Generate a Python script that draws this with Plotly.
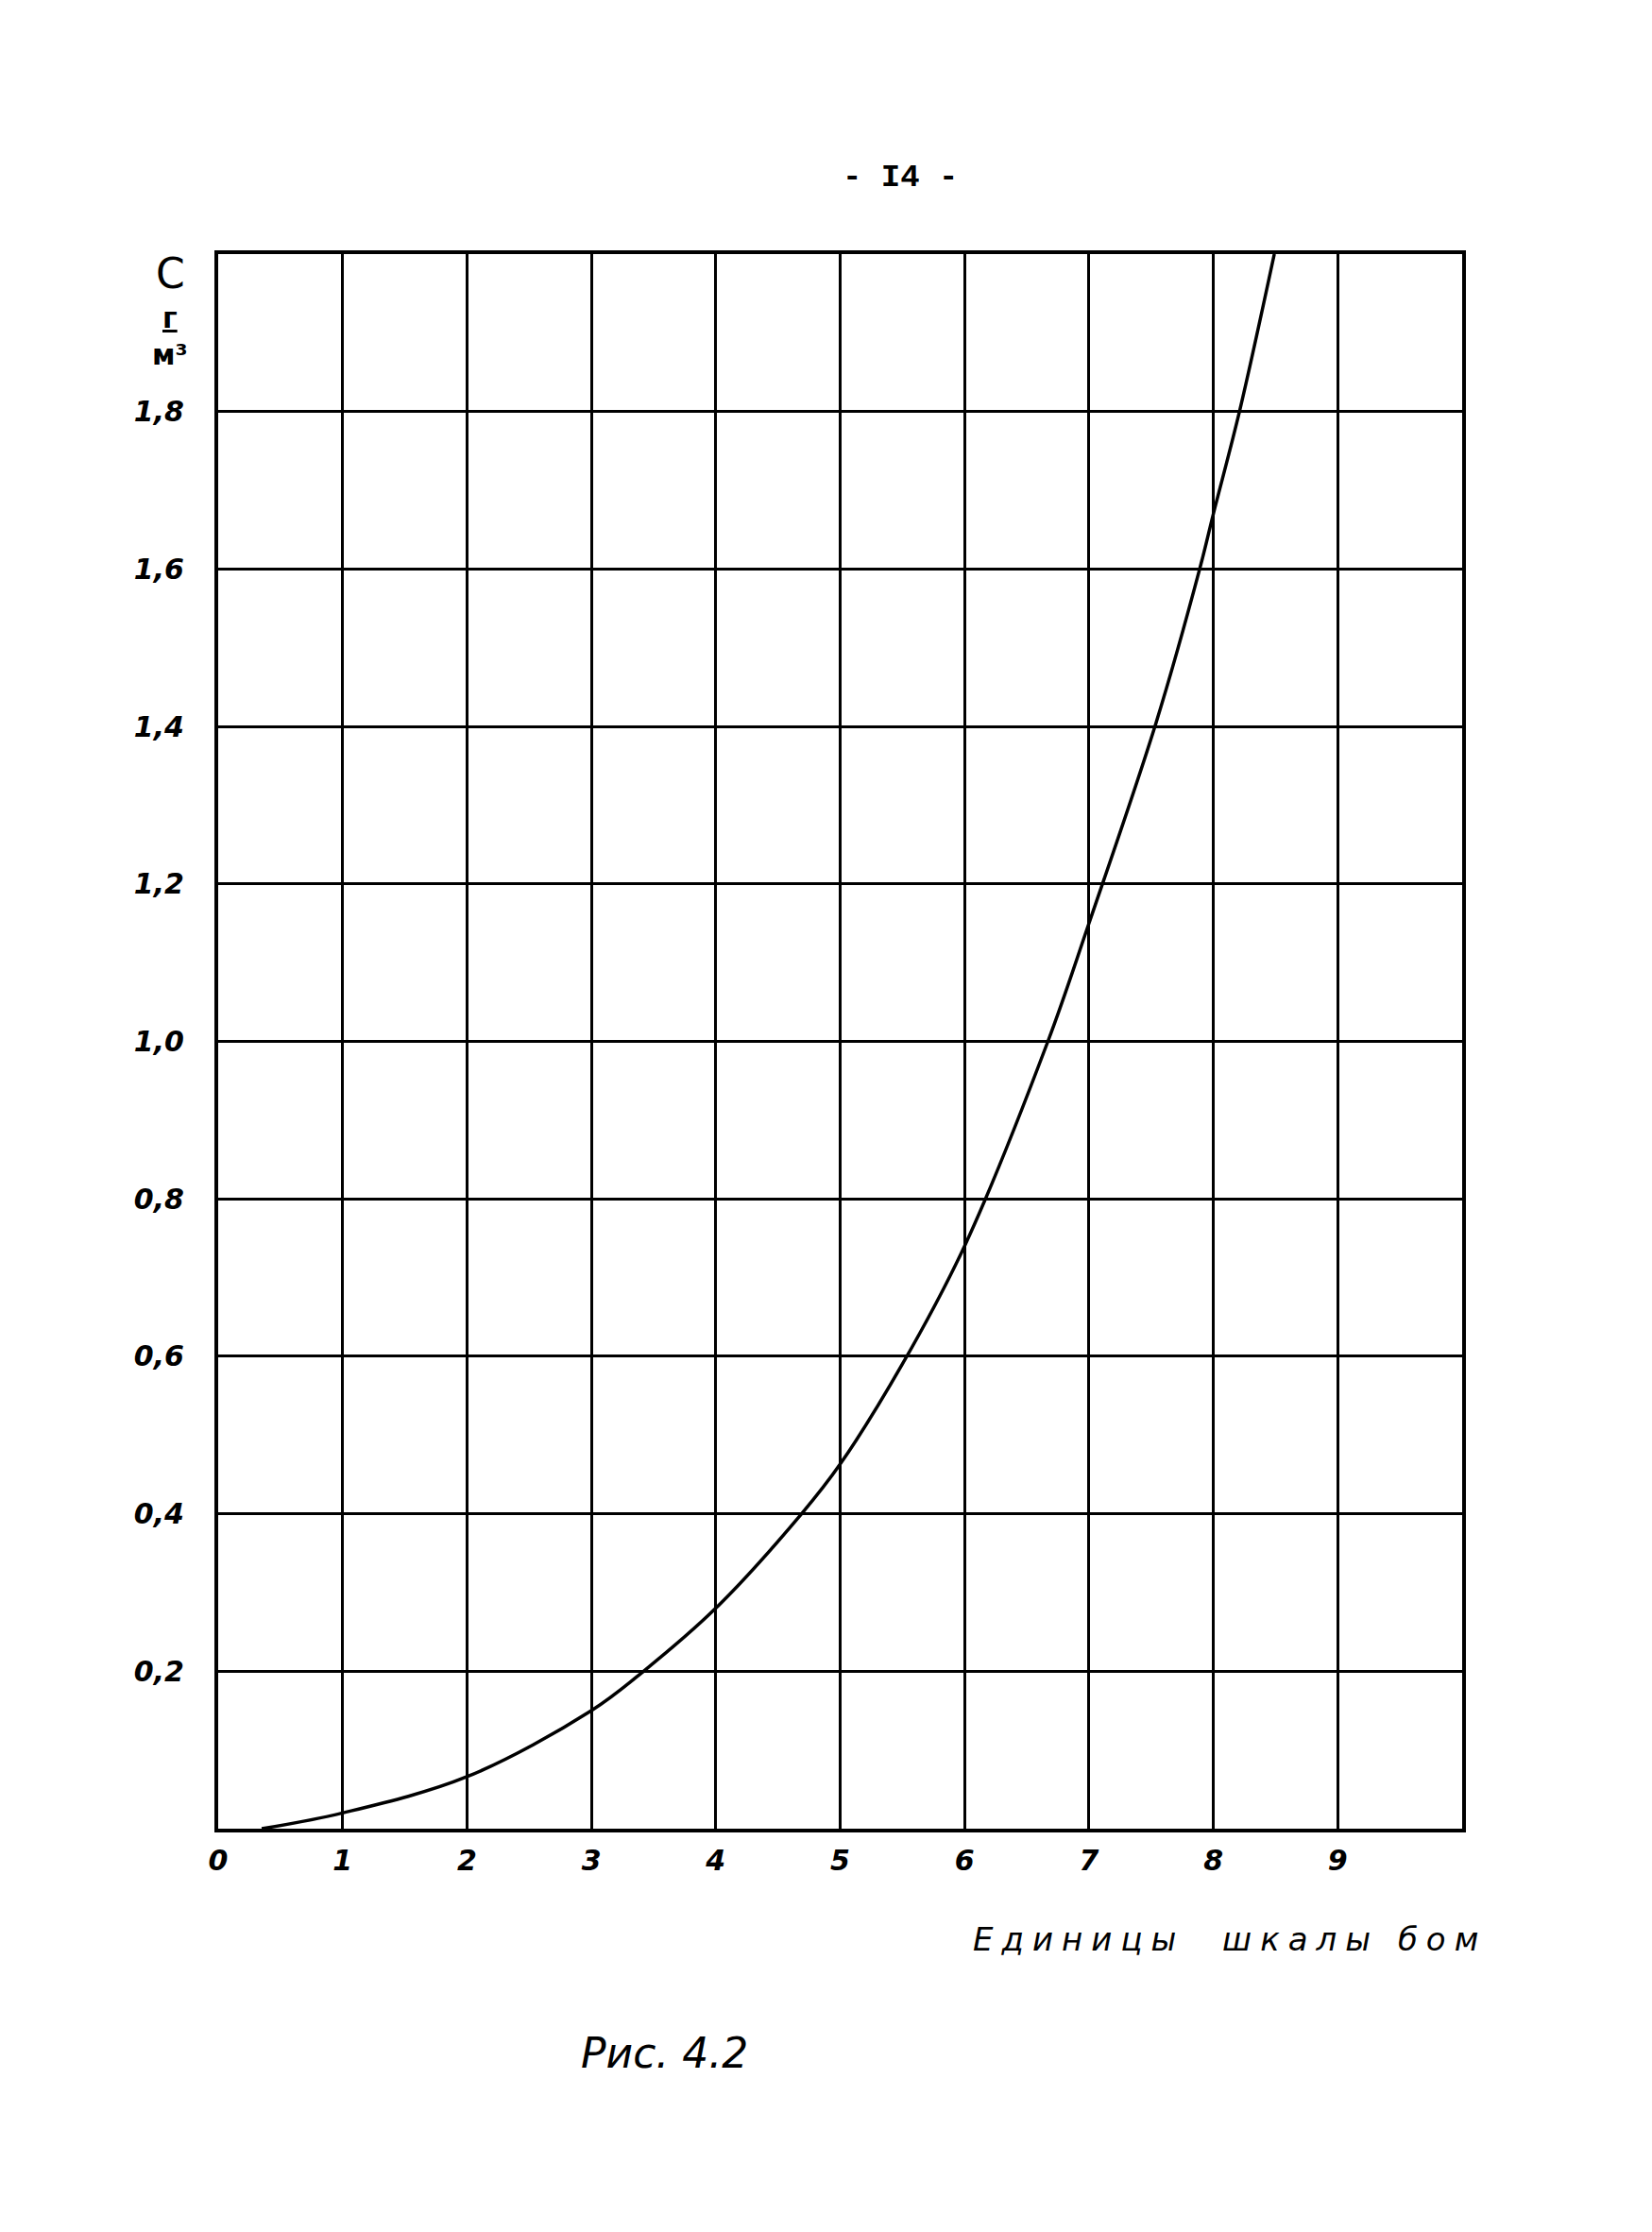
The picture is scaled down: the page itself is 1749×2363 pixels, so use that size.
import plotly.graph_objects as go

# Curve (x: scale units, y: C, g/m^3)
curve_x = [0.35, 1.0, 2.0, 3.0, 3.42, 4.0, 4.69, 5.0, 5.5, 6.0, 6.67, 7.0, 7.54, 7.89, 8.0, 8.21, 8.49]
curve_y = [0.0, 0.02, 0.066, 0.15, 0.2, 0.28, 0.4, 0.463, 0.59, 0.74, 1.0, 1.15, 1.405, 1.6, 1.67, 1.8, 2.0]

x_tick_vals = [0, 1, 2, 3, 4, 5, 6, 7, 8, 9, 10]
x_tick_text = ["0", "1", "2", "3", "4", "5", "6", "7", "8", "9", ""]
y_tick_vals = [0, 0.2, 0.4, 0.6, 0.8, 1.0, 1.2, 1.4, 1.6, 1.8, 2.0]
y_tick_text = ["", "0,2", "0,4", "0,6", "0,8", "1,0", "1,2", "1,4", "1,6", "1,8", ""]

W, H = 1749, 2363
L, R, T, B = 223, 209, 261, 435
pw, ph = W - L - R, H - T - B

def px(x):
    return (x - L) / pw

def py(y):
    return (H - B - y) / ph

font_fam = "DejaVu Sans, Liberation Sans, sans-serif"

fig = go.Figure()
fig.add_trace(go.Scatter(
    x=curve_x, y=curve_y, mode="lines",
    line=dict(color="black", width=3.5, shape="spline", smoothing=1.0),
    showlegend=False, hoverinfo="skip",
))

axis_common = dict(
    showgrid=True, gridcolor="black", gridwidth=2.5,
    showline=True, linecolor="black", linewidth=4, mirror=True,
    zeroline=False, ticks="outside", ticklen=0, tickcolor="white",
    tickfont=dict(family=font_fam, size=30, color="black", style="italic", weight="bold"),
)

fig.update_xaxes(range=[0, 10], tickmode="array", tickvals=x_tick_vals, ticktext=x_tick_text,
                 ticklabelstandoff=4, **axis_common)
fig.update_yaxes(range=[0, 2.0], tickmode="array", tickvals=y_tick_vals, ticktext=y_tick_text,
                 ticklabelstandoff=26, **axis_common)

annots = [
    dict(text="- I4 -", x=px(945), y=py(180), size=34, xanchor="center", fam="Liberation Mono, monospace", bold=True),
    dict(text="C", x=px(172), y=py(282), size=44, xanchor="center"),
    dict(text="<u>г</u><br>м³", x=px(172), y=py(348), size=30, xanchor="center", bold=True),
    dict(text='<span style="letter-spacing:9px">Единицы  шкалы бом</span>', x=px(1568), y=py(2045), size=34,
         xanchor="right", italic=True),
    dict(text="Рис. 4.2", x=px(695), y=py(2165), size=44, xanchor="center", italic=True),
]
for a in annots:
    fig.add_annotation(
        text=a["text"], x=a["x"], y=a["y"], xref="paper", yref="paper",
        xanchor=a["xanchor"], yanchor="middle", showarrow=False,
        font=dict(family=a.get("fam", font_fam), size=a["size"], color="black",
                  style="italic" if a.get("italic") else "normal",
                  weight="bold" if a.get("bold") else "normal"),
    )

fig.update_layout(
    width=W, height=H,
    margin=dict(l=L, r=R, t=T, b=B, autoexpand=False),
    paper_bgcolor="white", plot_bgcolor="white",
    showlegend=False,
)

fig.write_html("out.html")
